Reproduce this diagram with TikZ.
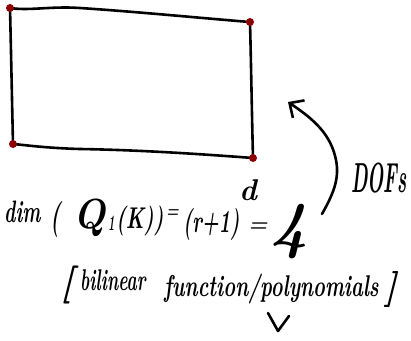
\RequirePackage{fix-cm}
\documentclass[tikz,border=0pt]{standalone}
\usetikzlibrary{arrows.meta}
\newcommand{\hwtext}[3]{\scalebox{#1}[1]{\fontsize{#2}{#2}\selectfont #3}}
\begin{document}
\begin{tikzpicture}[x=1pt,y=-1pt,
  stroke/.style={line width=2.6pt, line cap=round, line join=round, black},
  vtx/.style={circle, fill=red!55!black, inner sep=0pt, minimum size=8pt},
  hw/.style={inner sep=0pt, anchor=base west, font=\bfseries\itshape}]
\useasboundingbox (0,0) rectangle (411,340);
% element corners
\coordinate (A) at (10,8);
\coordinate (B) at (250,22);
\coordinate (C) at (253,158);
\coordinate (D) at (13,144);
\draw[stroke] (A) .. controls (30,11) and (50,6) .. (80,8) .. controls (140,12) and (200,18) .. (B);
\draw[stroke] (B) .. controls (251,60) and (252,120) .. (C);
\draw[stroke] (C) .. controls (200,154) and (140,150) .. (80,149) .. controls (45,148) and (25,145) .. (D);
\draw[stroke] (D) .. controls (12,100) and (11,50) .. (A);
\node[vtx] (vA) at (A) {};
\node[vtx] (vB) at (B) {};
\node[vtx] (vC) at (C) {};
\node[vtx] (vD) at (D) {};
% arrow
\coordinate (s) at (322,214);
\coordinate (t) at (288,102);
\draw[stroke, -{Straight Barb[length=11pt,width=21pt,line width=2.6pt]}] (s) .. controls (332,196) and (340,180) .. (336,160) .. controls (331,135) and (315,120) .. (t);
\node[hw] (dofs) at (351,192) {\hwtext{0.45}{42}{DOFs}};
% equation
\node[hw] (dim) at (4,222) {\hwtext{0.62}{31}{dim}};
\node[hw] (lp) at (50,228) {\hwtext{0.6}{36}{(}};
\node[hw] (Q) at (73,228) {\hwtext{0.9}{42}{Q}};
\node[hw] (sub) at (108,230) {\hwtext{0.5}{22}{1}};
\node[hw] (K) at (116,228) {\hwtext{0.68}{30}{(K))}};
\node[hw] (eq1) at (166,217) {\hwtext{0.72}{20}{=}};
\node[hw] (r1) at (183,232) {\hwtext{0.6}{32}{(r+1)}};
\node[hw] (d) at (239,200) {\hwtext{1}{30}{d}};
\node[hw] (eq2) at (248,231) {\hwtext{1}{22}{=}};
\node[hw] (four) at (270,246) {\hwtext{1}{64}{4}};
% second line
\node[hw] (lb) at (60,294) {\hwtext{1}{38}{[}};
\node[hw] (bil) at (80,290) {\hwtext{0.58}{30}{bilinear}};
\node[hw] (fun) at (164,296) {\hwtext{0.67}{30}{function/polynomials}};
\node[hw] (rb) at (384,298) {\hwtext{1}{36}{]}};
\draw[stroke] (268,313) -- (278,331) -- (289,316);
\end{tikzpicture}
\end{document}
